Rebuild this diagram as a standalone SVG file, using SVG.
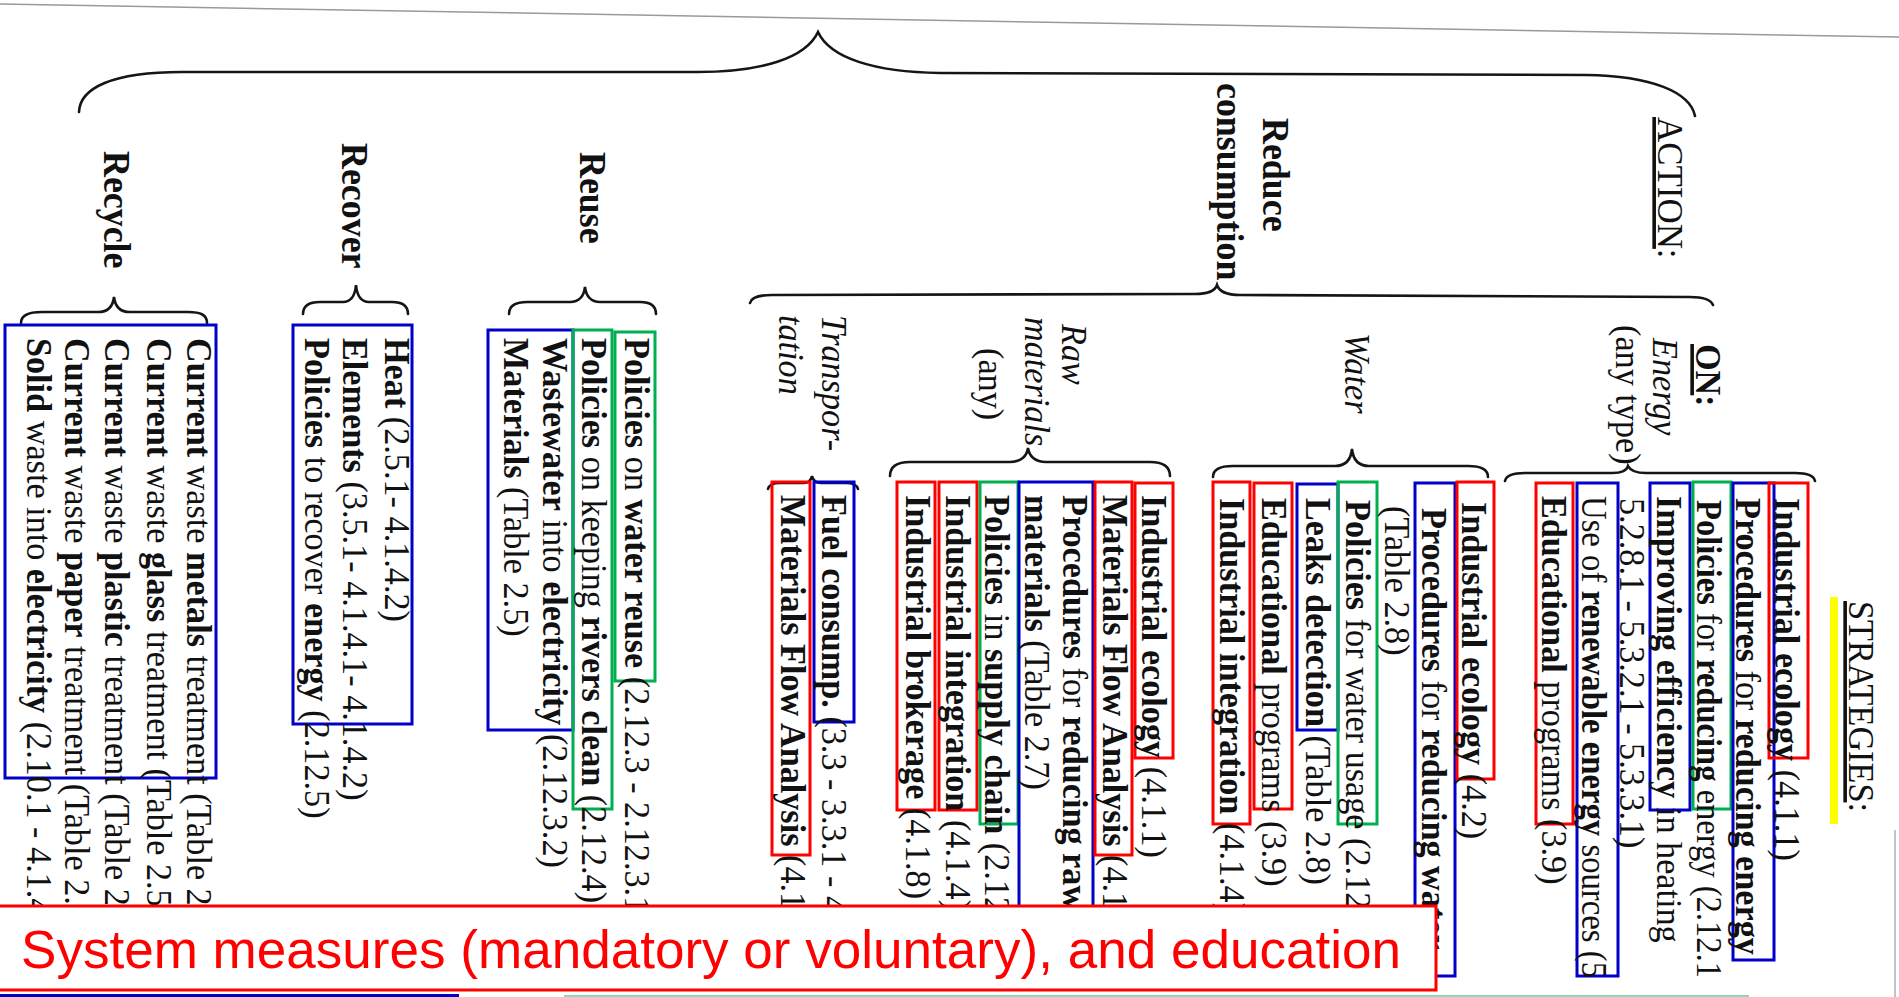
<svg xmlns="http://www.w3.org/2000/svg" width="1899" height="997" viewBox="0 0 1899 997">
<style>
.t{font-family:'Liberation Serif','Times New Roman',serif;font-size:36px;fill:#111}
.lb{font-family:'Liberation Serif','Times New Roman',serif;font-size:37px;fill:#111;font-weight:bold}
.b{font-weight:bold}
.i{font-style:italic}
.u{text-decoration:underline}
.br{fill:none;stroke:#151515;stroke-width:2.6;stroke-linecap:round}
.bx{fill:none;stroke-width:3}
.blue{stroke:#0000c8}
.red{stroke:#ff0000}
.grn{stroke:#00b050}
</style>
<rect width="1899" height="997" fill="#ffffff"/>
<line x1="0" y1="4" x2="1899" y2="37" stroke="#9a9a9a" stroke-width="1.5"/>
<line x1="1895" y1="830" x2="1895" y2="997" stroke="#b0b0b0" stroke-width="1.5"/>

<g id="connectors">
<path class="br" stroke-width="3" d="M79,112 C80,88 112,72 182,72 L697,72 C762,72 806,58 818,32 C830,58 874,72 940,73 L1586,75 C1652,76 1690,92 1695,116"/>
<path class="br" d="M21,323 C21,315 28,312 42,312 L98,312 C108,312 113,306 114,297 C115,306 120,312 130,312 L188,312 C201,312 207,315 207,323"/>
<path class="br" d="M303,314 C303,306 309,302 320,302 L343,302 C351,302 355,296 356,285 C357,296 361,302 369,302 L392,302 C403,302 408,306 408,314"/>
<path class="br" d="M509,314 C509,306 515,302 527,302 L570,302 C579,302 584,296 585,287 C586,296 591,302 600,302 L640,302 C651,302 656,306 656,314"/>
<path class="br" d="M750,303 C751,298 758,295 772,295 L1195,294 C1208,294 1215,291 1217,285 C1219,291 1226,295 1240,295 L1690,297 C1704,297 1711,300 1713,305"/>
<path class="br" d="M890,476 C890,467 897,462 910,462 L1010,462 C1021,462 1027,456 1028,448 C1029,456 1035,462 1046,462 L1150,462 C1163,462 1170,467 1170,476"/>
<path class="br" d="M768,489 C769,485 773,483 780,483 L804,483 C809,483 811,480 812,476 C813,480 816,483 821,483 L846,483 C853,483 857,485 858,489"/>
<path class="br" d="M1213,477 C1213,470 1220,466 1233,466 L1335,466 C1346,466 1351,459 1352,449 C1353,459 1358,466 1369,466 L1468,466 C1481,466 1488,470 1488,477"/>
<path class="br" d="M1505,481 C1506,476 1512,473 1525,473 L1612,473 C1622,473 1627,470 1628,466 C1630,470 1635,473 1646,473 L1795,473 C1808,473 1814,476 1815,481"/>
</g>

<g id="action">
<text class="t" transform="translate(1658,117) rotate(90) scale(0.97,1)"><tspan class="u">ACTION</tspan>:</text>
</g>

<g id="recycle">
<text class="lb" transform="translate(104,151) rotate(90) scale(0.97,1)">Recycle</text>
<rect class="bx blue" x="5" y="325" width="211" height="453"/>
<text class="t" transform="translate(187,338) rotate(90) scale(0.95,1)"><tspan class="b">Current</tspan> waste <tspan class="b">metals</tspan> treatment (Table 2</text>
<text class="t" transform="translate(147,338) rotate(90) scale(0.95,1)"><tspan class="b">Current</tspan> waste <tspan class="b">glass</tspan> treatment (Table 2.5</text>
<text class="t" transform="translate(105,338) rotate(90) scale(0.95,1)"><tspan class="b">Current</tspan> waste <tspan class="b">plastic</tspan> treatment (Table 2.</text>
<text class="t" transform="translate(65,338) rotate(90) scale(0.95,1)"><tspan class="b">Current</tspan> waste <tspan class="b">paper</tspan> treatment (Table 2.</text>
<text class="t" transform="translate(27,338) rotate(90) scale(0.95,1)"><tspan class="b">Solid</tspan> waste into <tspan class="b">electricity</tspan> (2.10.1 - 4.1.4</text>
</g>

<g id="recover">
<text class="lb" transform="translate(342,143) rotate(90) scale(0.97,1)">Recover</text>
<rect class="bx blue" x="293" y="325" width="119" height="399"/>
<text class="t" transform="translate(385,338) rotate(90) scale(0.95,1)"><tspan class="b">Heat</tspan> (2.5.1- 4.1.4.2)</text>
<text class="t" transform="translate(343,338) rotate(90) scale(0.95,1)"><tspan class="b">Elements</tspan> (3.5.1- 4.1.4.1- 4.1.4.2)</text>
<text class="t" transform="translate(305,338) rotate(90) scale(0.95,1)"><tspan class="b">Policies</tspan> to recover <tspan class="b">energy</tspan> (2.12.5)</text>
</g>

<g id="reuse">
<text class="lb" transform="translate(580,152) rotate(90) scale(0.97,1)">Reuse</text>
<rect class="bx blue" x="488" y="330" width="85" height="400"/>
<rect class="bx grn" x="573" y="330" width="39" height="479"/>
<rect class="bx grn" x="615" y="332" width="40" height="349"/>
<text class="t" transform="translate(625,338) rotate(90) scale(0.95,1)"><tspan class="b">Policies</tspan> on <tspan class="b">water reuse</tspan> (2.12.3 - 2.12.3.1</text>
<text class="t" transform="translate(582,338) rotate(90) scale(0.95,1)"><tspan class="b">Policies</tspan> on keeping <tspan class="b">rivers clean</tspan> (2.12.4)</text>
<text class="t" transform="translate(543,338) rotate(90) scale(0.95,1)"><tspan class="b">Wastewater</tspan> into <tspan class="b">electricity</tspan> (2.12.3.2)</text>
<text class="t" transform="translate(504,338) rotate(90) scale(0.95,1)"><tspan class="b">Materials</tspan> (Table 2.5)</text>
</g>

<g id="reduce">
<text class="lb" transform="translate(1263,118) rotate(90) scale(0.97,1)">Reduce</text>
<text class="lb" transform="translate(1217,83) rotate(90) scale(0.97,1)">consumption</text>
</g>

<g id="transportation">
<text class="t i" transform="translate(822,315) rotate(90) scale(0.95,1)">Transpor-</text>
<text class="t i" transform="translate(779,315) rotate(90) scale(0.95,1)">tation</text>
<rect class="bx blue" x="814" y="482" width="40" height="240"/>
<rect class="bx red" x="772" y="482" width="38" height="373"/>
<text class="t" transform="translate(822,495) rotate(90) scale(0.95,1)"><tspan class="b">Fuel consump.</tspan> (3.3 - 3.3.1 - 4</text>
<text class="t" transform="translate(781,495) rotate(90) scale(0.95,1)"><tspan class="b">Materials Flow Analysis</tspan> (4.1</text>
</g>

<g id="raw-materials">
<text class="t i" transform="translate(1062,324) rotate(90) scale(0.95,1)">Raw</text>
<text class="t i" transform="translate(1025,317) rotate(90) scale(0.95,1)">materials</text>
<text class="t" transform="translate(979,348) rotate(90) scale(0.95,1)">(any)</text>
<rect class="bx red" x="897" y="482" width="38" height="328"/>
<rect class="bx red" x="939" y="482" width="38" height="328"/>
<rect class="bx grn" x="980" y="482" width="38" height="342"/>
<rect class="bx blue" x="1019" y="482" width="74" height="470"/>
<rect class="bx red" x="1095" y="482" width="37" height="373"/>
<rect class="bx red" x="1135" y="483" width="38" height="275"/>
<text class="t" transform="translate(1142,495) rotate(90) scale(0.95,1)"><tspan class="b">Industrial ecology</tspan> (4.1.1)</text>
<text class="t" transform="translate(1103,495) rotate(90) scale(0.95,1)"><tspan class="b">Materials Flow Analysis</tspan> (4.1</text>
<text class="t" transform="translate(1063,495) rotate(90) scale(0.95,1)"><tspan class="b">Procedures</tspan> for <tspan class="b">reducing raw</tspan></text>
<text class="t" transform="translate(1025,495) rotate(90) scale(0.95,1)"><tspan class="b">materials</tspan> (Table 2.7)</text>
<text class="t" transform="translate(985,495) rotate(90) scale(0.95,1)"><tspan class="b">Policies</tspan> in <tspan class="b">supply chain</tspan> (2.12</text>
<text class="t" transform="translate(946,495) rotate(90) scale(0.95,1)"><tspan class="b">Industrial integration</tspan> (4.1.4)</text>
<text class="t" transform="translate(906,495) rotate(90) scale(0.95,1)"><tspan class="b">Industrial brokerage</tspan> (4.1.8)</text>
</g>

<g id="water">
<text class="t i" transform="translate(1345,333) rotate(90) scale(0.95,1)">Water</text>
<rect class="bx red" x="1213" y="482" width="37" height="342"/>
<rect class="bx red" x="1254" y="483" width="38" height="326"/>
<rect class="bx blue" x="1297" y="484" width="41" height="246"/>
<rect class="bx grn" x="1338" y="482" width="39" height="342"/>
<rect class="bx blue" x="1415" y="483" width="40" height="493"/>
<rect class="bx red" x="1457" y="482" width="37" height="297"/>
<text class="t" transform="translate(1462,502) rotate(90) scale(0.95,1)"><tspan class="b">Industrial ecology</tspan> (4.2)</text>
<text class="t" transform="translate(1422,508) rotate(90) scale(0.95,1)"><tspan class="b">Procedures</tspan> for <tspan class="b">reducing water</tspan></text>
<text class="t" transform="translate(1385,506) rotate(90) scale(0.95,1)">(Table 2.8)</text>
<text class="t" transform="translate(1346,500) rotate(90) scale(0.95,1)"><tspan class="b">Policies</tspan> for water usage (2.12</text>
<text class="t" transform="translate(1306,498) rotate(90) scale(0.95,1)"><tspan class="b">Leaks detection</tspan> (Table 2.8)</text>
<text class="t" transform="translate(1262,498) rotate(90) scale(0.95,1)"><tspan class="b">Educational</tspan> programs (3.9)</text>
<text class="t" transform="translate(1220,498) rotate(90) scale(0.95,1)"><tspan class="b">Industrial integration</tspan> (4.1.4)</text>
</g>

<g id="energy">
<text class="t b" transform="translate(1696,344) rotate(90) scale(0.95,1)"><tspan class="u">ON</tspan>:</text>
<text class="t i" transform="translate(1653,338) rotate(90) scale(0.95,1)">Energy</text>
<text class="t" transform="translate(1616,325) rotate(90) scale(0.95,1)">(any type)</text>
<rect class="bx red" x="1536" y="483" width="37" height="341"/>
<rect class="bx blue" x="1577" y="483" width="41" height="493"/>
<rect class="bx blue" x="1650" y="483" width="40" height="327"/>
<rect class="bx grn" x="1693" y="482" width="38" height="327"/>
<rect class="bx blue" x="1733" y="483" width="41" height="477"/>
<rect class="bx red" x="1769" y="483" width="39" height="275"/>
<text class="t" transform="translate(1775,498) rotate(90) scale(0.95,1)"><tspan class="b">Industrial ecology</tspan> (4.1.1)</text>
<text class="t" transform="translate(1736,498) rotate(90) scale(0.95,1)"><tspan class="b">Procedures</tspan> for <tspan class="b">reducing energy</tspan></text>
<text class="t" transform="translate(1697,500) rotate(90)" textLength="478" lengthAdjust="spacingAndGlyphs"><tspan class="b">Policies</tspan> for <tspan class="b">reducing</tspan> energy (2.12.1</text>
<text class="t" transform="translate(1657,496) rotate(90) scale(0.95,1)"><tspan class="b">Improving efficiency</tspan> in heating</text>
<text class="t" transform="translate(1620,498) rotate(90) scale(0.95,1)">5.2.8.1 - 5.3.2.1 - 5.3.3.1)</text>
<text class="t" transform="translate(1582,496) rotate(90)" textLength="482" lengthAdjust="spacingAndGlyphs">Use of <tspan class="b">renewable energy</tspan> sources (5</text>
<text class="t" transform="translate(1542,496) rotate(90) scale(0.95,1)"><tspan class="b">Educational</tspan> programs (3.9)</text>
</g>

<g id="strategies">
<rect x="1830" y="597" width="8" height="227" fill="#ffff00"/>
<text class="t" transform="translate(1849,601) rotate(90) scale(0.95,1)"><tspan class="u">STRATEGIES</tspan>:</text>
</g>

<g id="system-measures">
<rect x="-5" y="906" width="1441" height="84" fill="#ffffff" stroke="#ff0000" stroke-width="3"/>
<text x="21" y="968" font-family="'Liberation Sans',Arial,sans-serif" font-size="53" fill="#ff0000" textLength="1380" lengthAdjust="spacingAndGlyphs">System measures (mandatory or voluntary), and education</text>
</g>
<line x1="0" y1="995.5" x2="459" y2="995.5" stroke="#0000c8" stroke-width="3"/>
<line x1="564" y1="996" x2="1749" y2="996" stroke="#8fd8b0" stroke-width="2"/>
</svg>
